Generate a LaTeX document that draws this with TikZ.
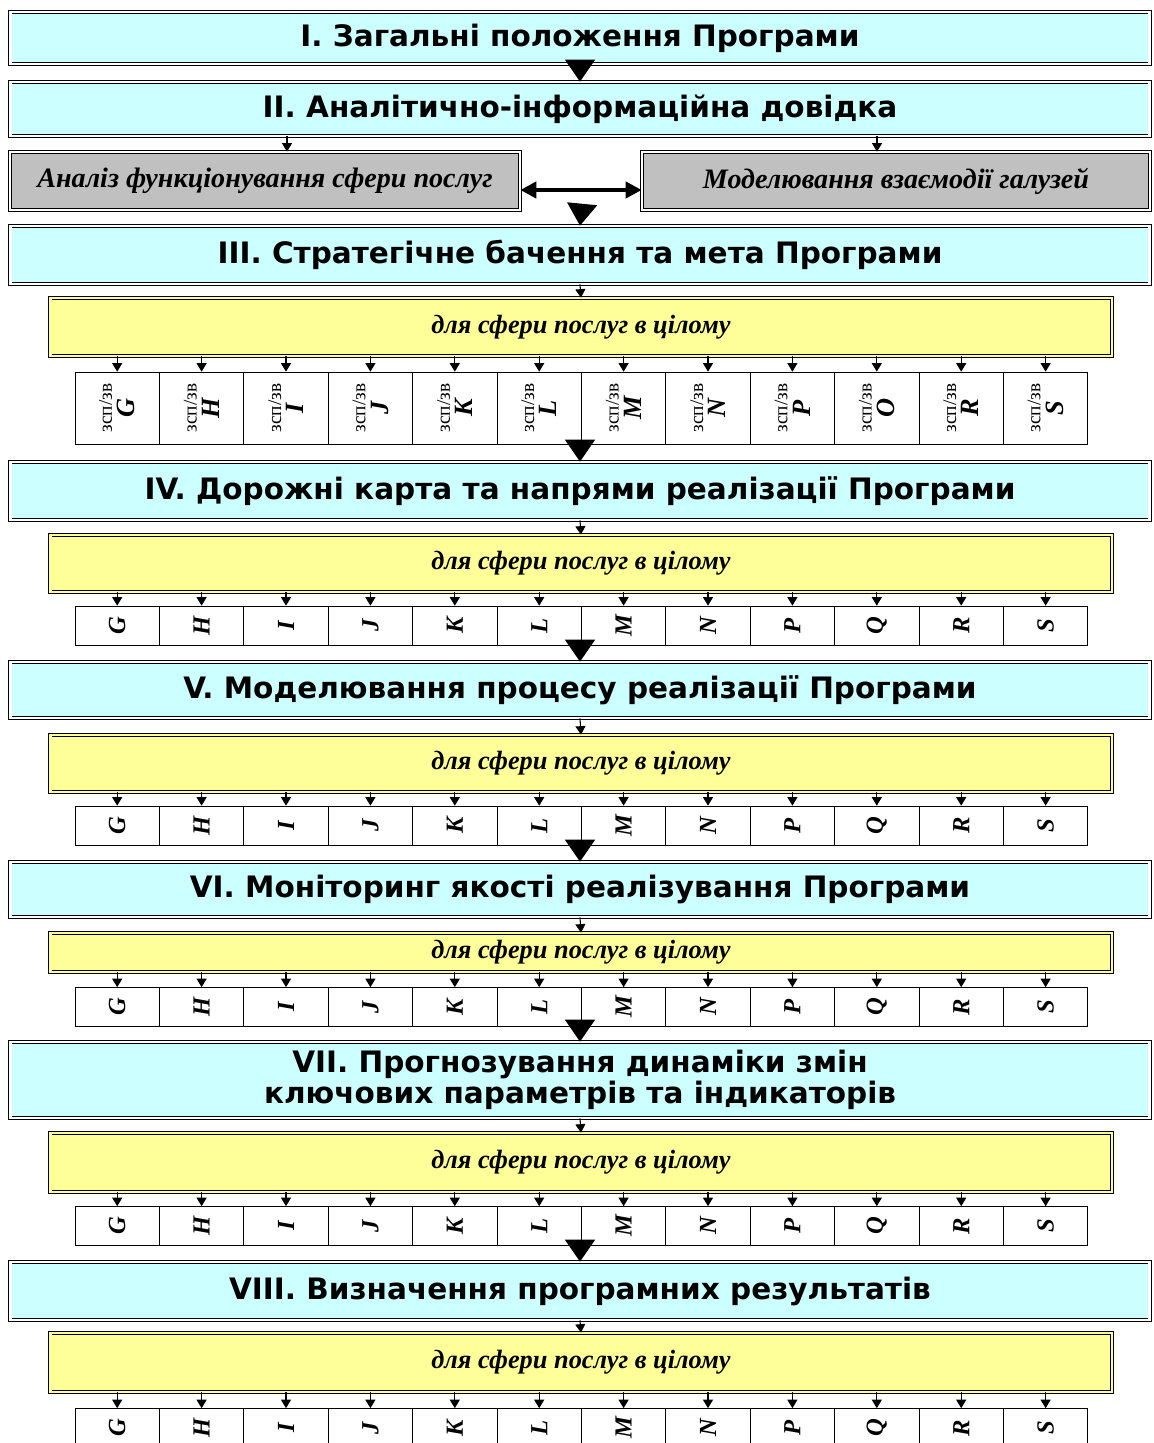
\documentclass[tikz,border=0pt]{standalone}
\usepackage{fontspec}
\setmainfont{Liberation Serif}
\newfontfamily\headfont{DejaVu Sans}
\usetikzlibrary{arrows.meta}

\definecolor{paleblue}{HTML}{CCFFFF}
\definecolor{paleyellow}{HTML}{FFFF99}
\definecolor{midgray}{HTML}{C0C0C0}

\tikzset{
  stage/.style={draw,double=white,double distance=1.6pt,fill=paleblue,minimum width=22.8cm,align=center,
    font=\headfont\bfseries\fontsize{16.8}{16}\selectfont},
  sidebox/.style={draw,double=white,double distance=1.6pt,fill=midgray,minimum width=10.2cm,minimum height=1.16cm,
    font=\bfseries\itshape\fontsize{16}{19}\selectfont},
  whole/.style={draw,double=paleyellow,double distance=1.6pt,fill=paleyellow,minimum width=21.24cm,
    font=\bfseries\itshape\fontsize{15}{17}\selectfont},
  cellbox/.style={draw,fill=white,minimum width=1.688cm,minimum height=0.78cm,inner sep=0pt,
    font=\bfseries\itshape\fontsize{14}{16}\selectfont},
  bigarr/.style={-{Triangle[width=0.6cm,length=0.44cm]},line width=0.8pt},
  smallarr/.style={-{Triangle[width=0.2cm,length=0.17cm]},line width=0.6pt},
  bothway/.style={{Triangle[width=0.32cm,length=0.32cm]}-{Triangle[width=0.32cm,length=0.32cm]},line width=2.4pt}
}

\begin{document}
\begin{tikzpicture}[x=0.02cm,y=-0.02cm]
\useasboundingbox[fill=white] (0,0) rectangle (1153,1443);

\node(t1) at (580,38)[stage,minimum height=1.04cm] {I. Загальні положення Програми};
\node(t2) at (580,109)[stage,minimum height=1.08cm] {II. Аналітично-інформаційна довідка};
\node(g1) at (265,181)[sidebox] {Аналіз функціонування сфери послуг};
\node(g2) at (896,181)[sidebox,minimum width=10.16cm] {Моделювання взаємодії галузей};
\coordinate(m2) at (582,205);
\node(t3) at (580,255)[stage,minimum height=1.16cm] {III. Стратегічне бачення та мета Програми};
\node(y3) at (581,327)[whole,minimum height=1.16cm] {для сфери послуг в цілому};
\node(t4) at (580,491)[stage,minimum height=1.16cm] {IV. Дорожні карта та напрями реалізації Програми};
\node(y4) at (581,563.5)[whole,minimum height=1.14cm] {для сфери послуг в цілому};
\node(t5) at (580,690)[stage,minimum height=1.12cm] {V. Моделювання процесу реалізації Програми};
\node(y5) at (581,763.5)[whole,minimum height=1.14cm] {для сфери послуг в цілому};
\node(t6) at (580,889.5)[stage,minimum height=1.1cm] {VI. Моніторинг якості реалізування Програми};
\node(y6) at (581,952.5)[whole,minimum height=0.78cm] {для сфери послуг в цілому};
\node(t7) at (580,1080)[stage,minimum height=1.52cm] {VII. Прогнозування динаміки змін\\ключових параметрів та індикаторів};
\node(y7) at (581,1162.5)[whole,minimum height=1.18cm] {для сфери послуг в цілому};
\node(t8) at (580,1291)[stage,minimum height=1.16cm] {VIII. Визначення програмних результатів};
\node(y8) at (581,1362.5)[whole,minimum height=1.18cm] {для сфери послуг в цілому};

\foreach \lt [count=\i] in {G,H,I,J,K,L,M,N,P,O,R,S}{
  \node(c3-\i) at (32.8+84.4*\i,408)[cellbox,minimum height=1.44cm]
    {\rotatebox{90}{\shortstack{{\normalfont\fontsize{11}{11}\selectfont зсп/зв}\\\fontsize{15}{15}\selectfont\lt}}};
  \draw[smallarr] (c3-\i.north |- y3.south) -- (c3-\i.north);
}
\foreach \r/\cy in {4/625.5,5/825.5,6/1007,7/1226,8/1428}
  \foreach \lt [count=\i] in {G,H,I,J,K,L,M,N,P,Q,R,S}{
    \node(c\r-\i) at (32.8+84.4*\i,\cy)[cellbox] {\rotatebox{90}{\lt}};
    \draw[smallarr] (c\r-\i.north |- y\r.south) -- (c\r-\i.north);
  }

\draw[bigarr] (t1.south) -- (t2.north);
\draw[smallarr] ([xshift=0.44cm]g1.north |- t2.south) -- ([xshift=0.44cm]g1.north);
\draw[smallarr] ([xshift=-0.38cm]g2.north |- t2.south) -- ([xshift=-0.38cm]g2.north);
\draw[bothway] ([yshift=-0.18cm]g1.east) -- ([yshift=-0.18cm]g2.west);
\draw[bigarr] (m2) -- (t3.north);
\draw[smallarr] (t3.south) -- (y3.north);
\draw[bigarr] (t4.north |- c3-6.south) -- (t4.north);
\draw[smallarr] (t4.south) -- (y4.north);
\draw[bigarr] (t5.north |- c4-6.south) -- (t5.north);
\draw[smallarr] (t5.south) -- (y5.north);
\draw[bigarr] (t6.north |- c5-6.south) -- (t6.north);
\draw[smallarr] (t6.south) -- (y6.north);
\draw[bigarr] (t7.north |- c6-6.south) -- (t7.north);
\draw[smallarr] (t7.south) -- (y7.north);
\draw[bigarr] (t8.north |- c7-6.south) -- (t8.north);
\draw[smallarr] (t8.south) -- (y8.north);

\end{tikzpicture}
\end{document}
